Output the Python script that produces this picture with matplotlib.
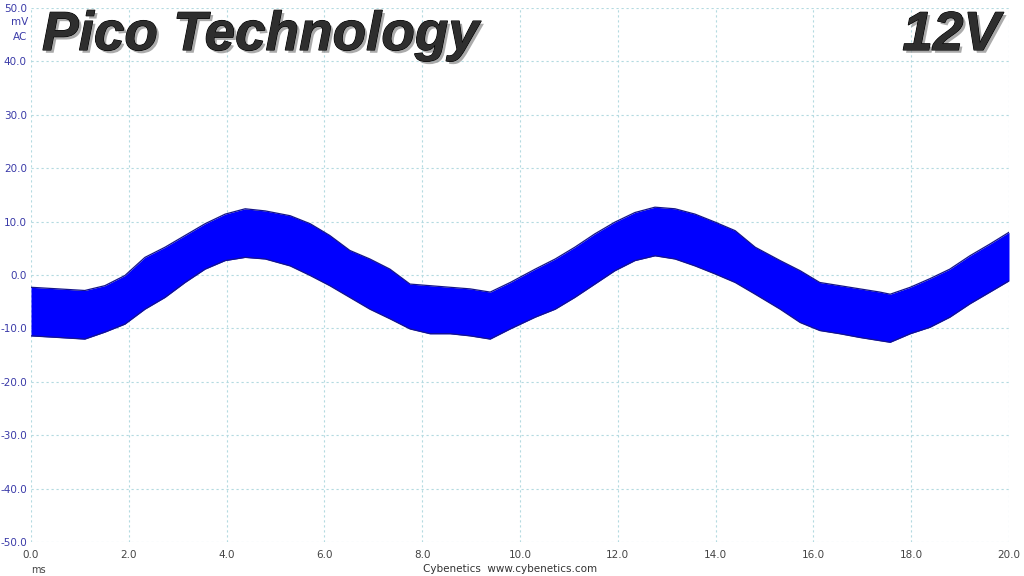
import matplotlib
matplotlib.use("Agg")
import matplotlib.pyplot as plt
import matplotlib.patheffects as pe

# envelope of the ripple band (ms, mV)
t_ms = [0.0, 0.56, 1.10, 1.51, 1.92, 2.33, 2.74, 3.15, 3.56, 3.97, 4.38, 4.79,
        5.30, 5.71, 6.11, 6.52, 6.93, 7.34, 7.75, 8.16, 8.57, 8.98, 9.39, 9.80,
        10.31, 10.72, 11.12, 11.53, 11.94, 12.35, 12.76, 13.17, 13.58, 13.99,
        14.40, 14.81, 15.32, 15.73, 16.13, 16.54, 16.95, 17.36, 17.57, 17.98,
        18.38, 18.79, 19.20, 19.61, 20.0]
upper_mv = [-2.3, -2.6, -2.9, -2.0, -0.1, 3.3, 5.2, 7.4, 9.6, 11.4, 12.4, 12.0,
            11.1, 9.6, 7.4, 4.6, 3.0, 1.1, -1.7, -2.0, -2.3, -2.6, -3.2, -1.4,
            1.1, 3.0, 5.2, 7.7, 9.9, 11.7, 12.7, 12.4, 11.4, 9.9,
            8.3, 5.2, 2.7, 0.8, -1.4, -2.0, -2.6, -3.2, -3.6, -2.3,
            -0.7, 1.1, 3.6, 5.8, 8.0]
lower_mv = [-11.4, -11.7, -12.0, -10.7, -9.2, -6.4, -4.2, -1.4, 1.1, 2.7, 3.3, 3.0,
            1.7, -0.1, -2.0, -4.2, -6.4, -8.2, -10.1, -11.0, -11.0, -11.4, -12.0, -10.1,
            -7.9, -6.4, -4.2, -1.7, 0.8, 2.7, 3.6, 3.0, 1.7, 0.2,
            -1.4, -3.6, -6.4, -8.9, -10.4, -11.0, -11.7, -12.3, -12.6, -11.0,
            -9.8, -7.9, -5.4, -3.2, -1.1]

x_ticks = [0, 2, 4, 6, 8, 10, 12, 14, 16, 18, 20]
y_ticks = [-50, -40, -30, -20, -10, 0, 10, 20, 30, 40, 50]

fig = plt.figure(figsize=(10.24, 5.76), dpi=100)
ax = fig.add_axes([31/1024, 1 - 542/576, (1009 - 31)/1024, (542 - 8)/576])

ax.fill_between(t_ms, lower_mv, upper_mv, color="#0000ff", lw=0, zorder=3)
ax.plot(t_ms, upper_mv, color="#14148a", lw=0.9, zorder=4)
ax.plot(t_ms, lower_mv, color="#14148a", lw=0.9, zorder=4)

ax.set_xlim(0, 20)
ax.set_ylim(-50, 50)
ax.set_xticks(x_ticks)
ax.set_yticks(y_ticks)
ax.set_xticklabels(["%.1f" % v for v in x_ticks])
ax.set_yticklabels(["%.1f" % v for v in y_ticks])
ax.tick_params(length=0, labelsize=7.5)
ax.tick_params(axis="y", colors="#3a3aa8", pad=3)
ax.tick_params(axis="x", colors="#444444", pad=6)
for s in ax.spines.values():
    s.set_visible(False)
ax.grid(True, color="#b3dae0", linestyle=(0, (2, 2.5)), lw=0.8)
ax.set_axisbelow(True)

fig.text(20/1024, 1 - 22/576, "mV", color="#3a3aa8", fontsize=7.5, ha="center", va="center")
fig.text(20/1024, 1 - 37/576, "AC", color="#3a3aa8", fontsize=7.5, ha="center", va="center")
fig.text(38/1024, 1 - 570/576, "ms", color="#444444", fontsize=7, ha="center", va="center")
fig.text(510/1024, 1 - 569/576, "Cybenetics  www.cybenetics.com", color="#333333",
         fontsize=7.5, ha="center", va="center")

shadow = [pe.withSimplePatchShadow(offset=(2, -2), shadow_rgbFace="#888888", alpha=0.7),
          pe.Stroke(linewidth=0.8, foreground="#000000"), pe.Normal()]
fig.text(42/1024, 1 - 36/576, "Pico Technology", family="Liberation Sans", weight="bold",
         style="italic", fontsize=39.5, color="#2e2e2e", ha="left", va="center",
         path_effects=shadow)
fig.text(1000/1024, 1 - 36/576, "12V", family="Liberation Sans", weight="bold",
         style="italic", fontsize=39.5, color="#2e2e2e", ha="right", va="center",
         path_effects=shadow)

fig.savefig("out.png", dpi=100)
